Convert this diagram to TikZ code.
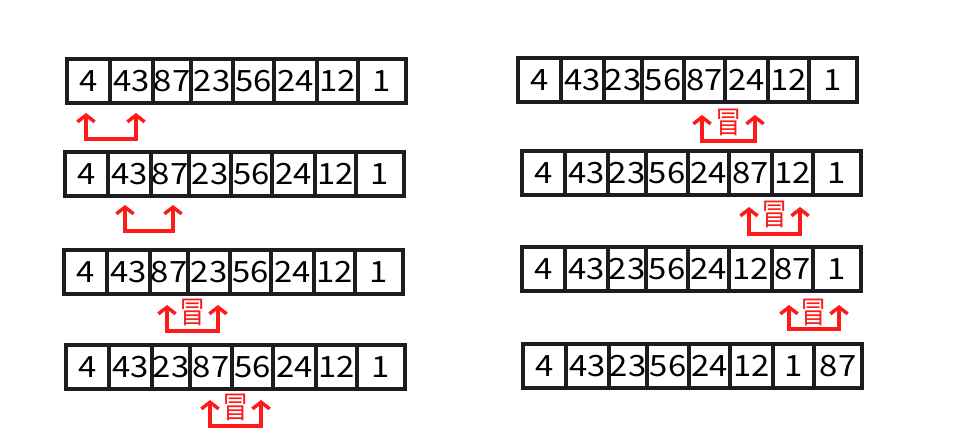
\documentclass[tikz,border=0pt]{standalone}
\usepackage{fontspec}
\setmainfont{Noto Sans CJK SC}
\usetikzlibrary{arrows.meta}
\definecolor{bubred}{HTML}{FF1A1A}
\definecolor{celldark}{HTML}{1C1C22}
\newcommand\cellnum[1]{\scalebox{1.12}[1]{#1}}
\newcommand\rowcells[4]{%
  \foreach \v [count=\i] in {#4} {%
    \pgfmathsetmacro\xa{#2+{0,43,86,124,166,207,250,291,339}[\i-1]}%
    \pgfmathsetmacro\xb{#2+{0,43,86,124,166,207,250,291,339}[\i]}%
    \node[cellbox, minimum width={(\xb-\xa)*0.75pt}] (#1c\i) at ({(\xa+\xb)/2},{#3+22}) {\cellnum{\v}};
  }}
\newcommand\swaparrow[6]{% name, xL, xR, ytop, ybot, withchar
  \coordinate (#1a) at (#2,#4);
  \coordinate (#1b) at (#3,#4);
  \draw[bubarrow] (#1a) -- (#2,#5) -- (#3,#5) -- (#1b);
  \ifnum#6=1
    \node[maochar] (#1m) at ({(#2+#3)/2},{#4+7}) {\scalebox{0.9}[1.05]{冒}};
  \fi}
\begin{document}
\begin{tikzpicture}[x=0.75pt,y=-0.75pt,
  cellbox/.style={draw=celldark, line width=2.4pt, fill=white, inner sep=0pt,
    minimum height=33pt, font=\fontsize{22pt}{24pt}\selectfont, text=black},
  bubarrow/.style={draw=bubred, line width=2.6pt,
    {Straight Barb[length=5pt,width=13pt]}-{Straight Barb[length=5pt,width=13pt]}},
  maochar/.style={text=bubred, font=\fontsize{22pt}{24pt}\selectfont, inner sep=0pt}]
\useasboundingbox (0,0) rectangle (966,448);
\fill[white] (0,0) rectangle (966,448);
% left column
\rowcells{La}{67}{59}{4,43,87,23,56,24,12,1}
\rowcells{Lb}{65}{152}{4,43,87,23,56,24,12,1}
\rowcells{Lc}{64}{250}{4,43,87,23,56,24,12,1}
\rowcells{Ld}{66}{345}{4,43,23,87,56,24,12,1}
% right column
\rowcells{Ra}{518}{58}{4,43,23,56,87,24,12,1}
\rowcells{Rb}{522}{151}{4,43,23,56,24,87,12,1}
\rowcells{Rc}{522}{247}{4,43,23,56,24,12,87,1}
\rowcells{Rd}{523}{344}{4,43,23,56,24,12,1,87}
% arrows
\swaparrow{A1}{86}{136}{113}{139}{0}
\swaparrow{A2}{125}{173}{205}{231}{0}
\swaparrow{A3}{167}{218}{305}{331}{1}
\swaparrow{A4}{210}{261}{400}{426}{1}
\swaparrow{A5}{702}{755}{115}{141}{1}
\swaparrow{A6}{749}{800}{207}{234}{1}
\swaparrow{A7}{789}{839}{305}{329}{1}
\end{tikzpicture}
\end{document}
